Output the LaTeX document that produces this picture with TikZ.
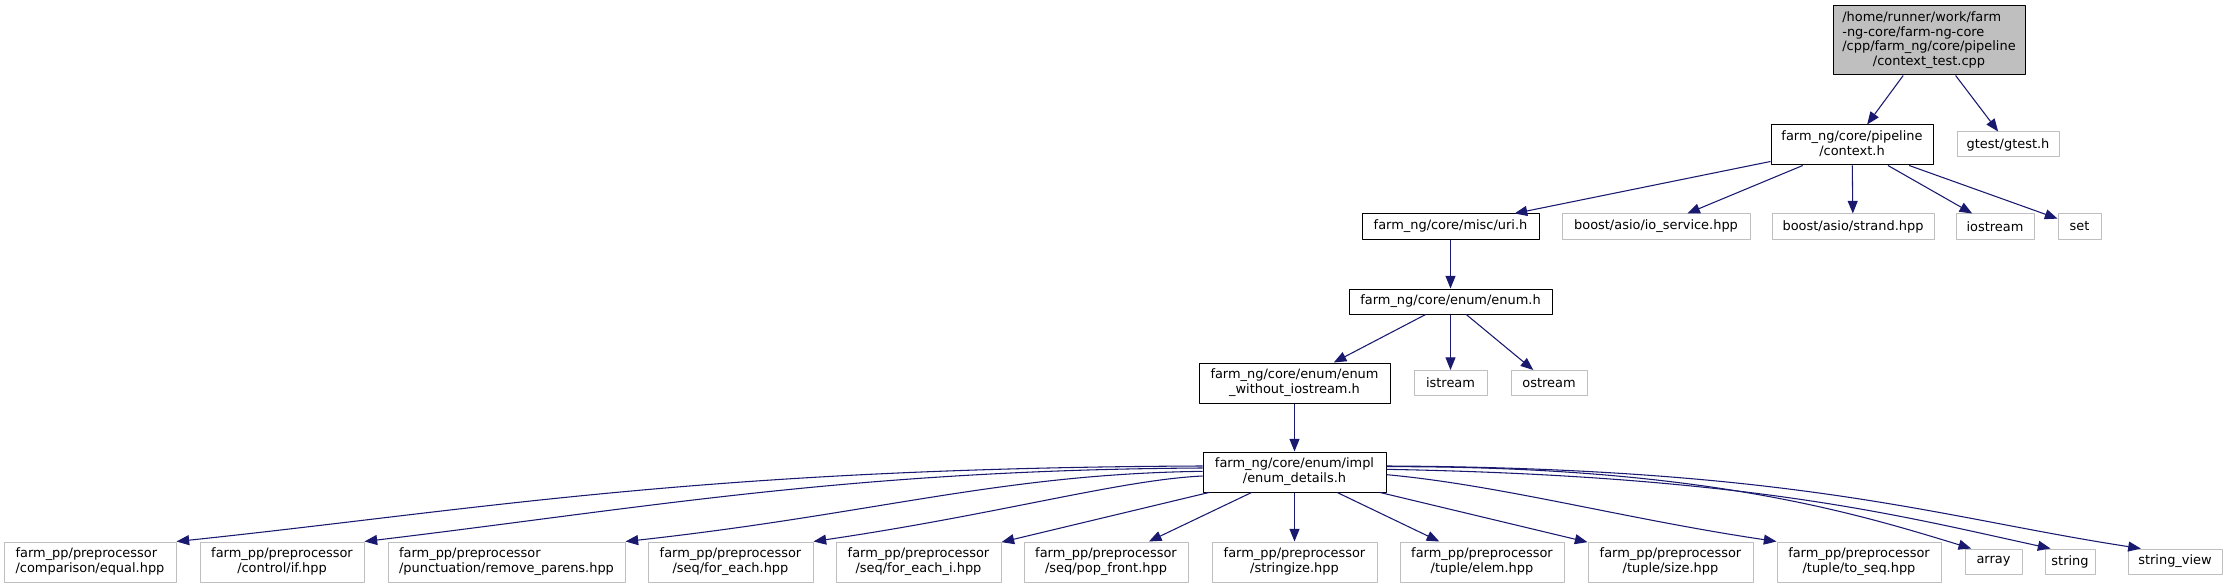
\documentclass[tikz,border=0pt]{standalone}
\usepackage{fontspec}
\setmainfont{DejaVu Sans}
\usepackage{tikz}
\usetikzlibrary{arrows.meta}
\definecolor{dgEdge}{HTML}{191970}
\definecolor{dgGrey}{HTML}{BFBFBF}
% label lines: left aligned, last one centred
\newcommand\dglines[1]{\begin{tabular}{@{}l@{}}#1\end{tabular}}
\newcommand\dglast[1]{\multicolumn{1}{@{}c@{}}{#1}}
\tikzset{
  dg graph/.style={x=0.75pt, y=-0.75pt,
    font=\fontsize{9.7}{10.9}\selectfont, line join=round},
  dg size/.style 2 args={minimum width=#1*0.75pt, minimum height=#2*0.75pt},
  dg node/.style={draw=black, fill=white, line width=0.75pt, inner sep=0pt},
  dg ext/.style={dg node, draw=dgGrey},
  dg root/.style={dg node, fill=dgGrey},
  dg edge/.style={-{Triangle[length=9.5pt,width=7.5pt]}, draw=dgEdge, line width=0.8pt}
}

\begin{document}
\begin{tikzpicture}[dg graph]
\path[use as bounding box, fill=white] (0,0) rectangle (2231,588);
% top
\node[dg root, dg size={192}{69}] (root) at (1929,40.5)
  {\dglines{/home/runner/work/farm\\-ng-core/farm-ng-core\\/cpp/farm\_ng/core/pipeline\\\dglast{/context\_test.cpp}}};
\node[dg node, dg size={162}{40}] (ctx) at (1852,145)
  {\dglines{farm\_ng/core/pipeline\\\dglast{/context.h}}};
\node[dg ext, dg size={102}{25}] (gtest) at (2008,144.5) {gtest/gtest.h};
\node[dg node, dg size={177}{25}] (uri) at (1450.5,226.5) {farm\_ng/core/misc/uri.h};
\node[dg ext, dg size={188}{25}] (io) at (1656,226.5) {boost/asio/io\_service.hpp};
\node[dg ext, dg size={162}{25}] (strand) at (1853,226.5) {boost/asio/strand.hpp};
\node[dg ext, dg size={78}{25}] (iostream) at (1995,226.5) {iostream};
\node[dg ext, dg size={43}{25}] (set) at (2079.5,226.5) {set};
\node[dg node, dg size={203}{25}] (enum) at (1450.5,301.5) {farm\_ng/core/enum/enum.h};
\node[dg node, dg size={191}{40}] (enumwo) at (1294.5,383)
  {\dglines{farm\_ng/core/enum/enum\\\dglast{\_without\_iostream.h}}};
\node[dg ext, dg size={73}{25}] (istream) at (1450.5,383) {istream};
\node[dg ext, dg size={76}{25}] (ostream) at (1549,383) {ostream};
\node[dg node, dg size={183}{40}] (details) at (1294.5,472)
  {\dglines{farm\_ng/core/enum/impl\\\dglast{/enum\_details.h}}};
% bottom row
\node[dg ext, dg size={172}{40}] (equal) at (90,562)
  {\dglines{farm\_pp/preprocessor\\\dglast{/comparison/equal.hpp}}};
\node[dg ext, dg size={164}{40}] (control) at (282,562)
  {\dglines{farm\_pp/preprocessor\\\dglast{/control/if.hpp}}};
\node[dg ext, dg size={237}{40}] (parens) at (506.5,562)
  {\dglines{farm\_pp/preprocessor\\\dglast{/punctuation/remove\_parens.hpp}}};
\node[dg ext, dg size={165}{40}] (foreach) at (730.5,562)
  {\dglines{farm\_pp/preprocessor\\\dglast{/seq/for\_each.hpp}}};
\node[dg ext, dg size={165}{40}] (foreachi) at (918.5,562)
  {\dglines{farm\_pp/preprocessor\\\dglast{/seq/for\_each\_i.hpp}}};
\node[dg ext, dg size={164}{40}] (popfront) at (1106,562)
  {\dglines{farm\_pp/preprocessor\\\dglast{/seq/pop\_front.hpp}}};
\node[dg ext, dg size={165}{40}] (stringize) at (1294.5,562)
  {\dglines{farm\_pp/preprocessor\\\dglast{/stringize.hpp}}};
\node[dg ext, dg size={164}{40}] (elem) at (1482,562)
  {\dglines{farm\_pp/preprocessor\\\dglast{/tuple/elem.hpp}}};
\node[dg ext, dg size={165}{40}] (tsize) at (1670.5,562)
  {\dglines{farm\_pp/preprocessor\\\dglast{/tuple/size.hpp}}};
\node[dg ext, dg size={164}{40}] (toseq) at (1859,562)
  {\dglines{farm\_pp/preprocessor\\\dglast{/tuple/to\_seq.hpp}}};
\node[dg ext, dg size={57}{25}] (array) at (1993.5,561.5) {array};
\node[dg ext, dg size={50}{25}] (string) at (2070,561.5) {string};
\node[dg ext, dg size={94}{25}] (strview) at (2175,561.5) {string\_view};
% edges
\foreach \t in {ctx,gtest}
  \draw[dg edge] (root) -- (\t);
\foreach \t in {uri,io,strand,iostream,set}
  \draw[dg edge] (ctx) -- (\t);
\draw[dg edge] (uri) -- (enum);
\foreach \t in {enumwo,istream,ostream}
  \draw[dg edge] (enum) -- (\t);
\draw[dg edge] (enumwo) -- (details);
\foreach \t in {foreachi,popfront,stringize,elem,tsize}
  \draw[dg edge] (details) -- (\t);
\draw[dg edge] ([yshift=4.5pt]details.west) .. controls (700,468) and (476,510) .. (equal.north east);
\draw[dg edge] ([yshift=3pt]details.west) .. controls (850,470) and (644,508) .. (control.north east);
\draw[dg edge] ([yshift=0.5pt]details.west) .. controls (1000,474) and (875,514) .. (parens.north east);
\draw[dg edge] ([yshift=-3pt]details.west) .. controls (1120,480) and (1000,514) .. (foreach.north east);
\draw[dg edge] ([yshift=-2pt]details.east) .. controls (1500,485) and (1625,519) .. (toseq.north west);
\draw[dg edge] ([yshift=4pt]details.east) .. controls (1700,466) and (1852,512) .. ([xshift=5pt]array.north west);
\draw[dg edge] ([yshift=2pt]details.east) .. controls (1750,476) and (1901,516) .. ([xshift=4.5pt]string.north west);
\draw[dg edge] ([yshift=4.5pt]details.east) .. controls (1800,468) and (1941,518) .. ([xshift=10pt]strview.north west);
\end{tikzpicture}
\end{document}
